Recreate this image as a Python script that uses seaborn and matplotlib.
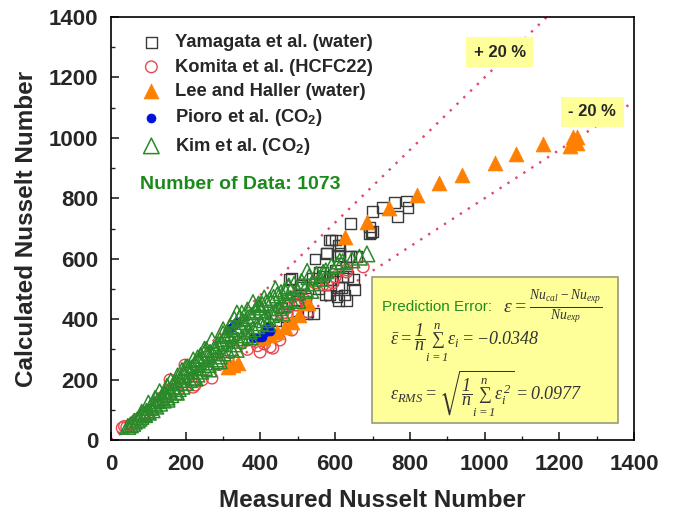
import numpy as np
import pandas as pd
import seaborn as sns
import matplotlib.pyplot as plt
from matplotlib.patches import Rectangle
from matplotlib.ticker import MultipleLocator

# ---- data ----
yamagata_x = [440, 457, 470, 479, 482, 498, 500, 506, 511, 520, 524, 527, 538, 541, 546, 555, 559,
              565, 570, 573, 576, 578, 586, 586, 586, 589, 594, 600, 600, 605, 608, 608, 610, 610,
              613, 613, 618, 620, 626, 630, 631, 634, 637, 640, 642, 648, 653, 658, 691, 693, 696,
              699, 701, 728, 760, 768, 790, 795]
yamagata_y = [395, 437, 410, 530, 533, 430, 460, 506, 513, 470, 420, 424, 533, 420, 599, 500, 556,
              553, 540, 480, 619, 616, 480, 530, 662, 662, 530, 662, 560, 474, 506, 612, 463, 645,
              619, 645, 506, 540, 480, 570, 463, 540, 606, 606, 718, 530, 497, 606, 705, 685, 688,
              689, 755, 771, 785, 741, 791, 768]

komita_x = [30, 36, 42, 55, 70, 90, 110, 130, 145, 158, 170, 190, 198, 220, 225, 244, 257, 270,
            290, 320, 350, 380, 399, 426, 433, 452, 460, 471, 471, 484, 487, 493, 498, 506, 519,
            524, 527, 546, 551, 567, 578, 594, 600, 631, 631, 675, 365, 410, 445, 392]
komita_y = [40, 45, 42, 50, 68, 85, 100, 125, 142, 199, 165, 180, 248, 175, 182, 199, 275, 205,
            250, 290, 320, 330, 291, 308, 304, 331, 420, 420, 437, 364, 474, 447, 447, 453, 463,
            474, 424, 520, 520, 513, 513, 520, 540, 556, 563, 573, 300, 318, 345, 312]

lee_x = [313, 327, 340, 407, 426, 444, 466, 484, 503, 527, 626, 685, 744, 819, 878, 940, 1028,
         1084, 1157, 1229, 1237, 1247, 1247, 1237]
lee_y = [242, 248, 255, 337, 348, 357, 374, 390, 414, 453, 672, 722, 768, 811, 850, 877, 917,
         946, 979, 973, 1004, 1004, 983, 990]

pioro_x = [313, 322, 330, 337, 380, 395, 404, 412, 418, 422, 426]
pioro_y = [365, 372, 382, 390, 338, 340, 342, 356, 370, 378, 360]

kim_x = [45, 52, 58, 62, 70, 75, 80, 85, 90, 95, 100, 105, 110, 115, 120, 125, 130, 135, 140,
         145, 150, 155, 160, 165, 170, 175, 180, 185, 190, 195, 200, 205, 210, 215, 220, 225,
         230, 235, 240, 245, 250, 255, 260, 265, 270, 275, 280, 285, 290, 295, 300, 305, 310,
         315, 320, 325, 330, 335, 340, 345, 350, 355, 360, 365, 370, 375, 380, 385, 390, 395,
         400, 405, 410, 415, 420, 425, 430, 435, 440, 445, 450, 455, 460, 465, 470, 475, 480,
         490, 500, 510, 520, 530, 540, 550, 560, 575, 590, 605, 620, 645, 665, 685, 270, 300,
         330, 250, 220, 190, 160, 130, 350, 380, 410, 440, 365, 280, 310, 240, 200,
         100, 150, 205, 255, 300, 337, 345, 395, 150, 175, 225, 262, 290, 335, 372, 420,
         458, 500, 535, 82, 118, 178, 232, 318, 402, 476, 525, 568, 612]
kim_y = [45, 50, 55, 62, 66, 72, 78, 88, 84, 95, 92, 108, 100, 118, 112, 130, 122, 140, 132,
         152, 142, 165, 150, 178, 160, 190, 170, 200, 178, 215, 190, 228, 200, 238, 208, 250,
         218, 258, 228, 268, 240, 280, 250, 290, 258, 300, 268, 312, 278, 322, 288, 335, 298,
         345, 305, 355, 318, 368, 330, 378, 338, 392, 348, 402, 360, 412, 368, 425, 378, 440,
         388, 448, 398, 455, 405, 465, 415, 472, 425, 480, 438, 488, 448, 495, 458, 505, 468,
         515, 490, 525, 500, 540, 520, 548, 535, 560, 575, 580, 590, 596, 605, 616, 330, 365,
         400, 300, 265, 230, 195, 160, 420, 455, 470, 500, 430, 300, 350, 280, 240,
         122, 178, 242, 300, 352, 420, 405, 450, 135, 158, 205, 235, 262, 300, 342, 385,
         420, 462, 495, 92, 138, 212, 272, 375, 430, 510, 558, 555, 592]

ref_x = [0, 1400]
band_plus = [0, 1680]
band_minus = [0, 1120]

# ---- style ----
sns.set_style('ticks')
plt.rcParams['font.family'] = ['Liberation Sans', 'DejaVu Sans']
plt.rcParams['mathtext.fontset'] = 'custom'
plt.rcParams['mathtext.rm'] = 'Liberation Serif:italic'
plt.rcParams['mathtext.it'] = 'Liberation Serif:italic'
plt.rcParams['mathtext.bf'] = 'Liberation Sans:bold'
plt.rcParams['mathtext.fallback'] = 'stix'

fig = plt.figure(figsize=(6.73, 5.15), dpi=100)
ax = fig.add_axes([0.165, 0.1456, 0.777, 0.8214])

line_col = '#e04a68'
ax.plot(ref_x, band_plus, linestyle=(0, (1, 3)), color=line_col, lw=1.7, zorder=1)
ax.plot(ref_x, band_minus, linestyle=(0, (1, 3)), color=line_col, lw=1.7, zorder=1)

sns.scatterplot(x=yamagata_x, y=yamagata_y, marker='s', s=62, facecolors='none',
                edgecolors='#3a3a3a', linewidth=1.0, ax=ax, label='Yamagata et al. (water)')
sns.scatterplot(x=komita_x, y=komita_y, marker='o', s=70, facecolors='none',
                edgecolors='#e8474c', linewidth=1.0, ax=ax, label='Komita et al. (HCFC22)')
sns.scatterplot(x=lee_x, y=lee_y, marker='^', s=115, color='#ff8000',
                edgecolors='#ff8000', linewidth=0.5, ax=ax, label='Lee and Haller (water)')
sns.scatterplot(x=pioro_x, y=pioro_y, marker='o', s=42, color='#0010e0',
                edgecolors='#0010e0', linewidth=0.5, ax=ax, label=r'Pioro et al. (CO$_\mathbf{2}$)')
sns.scatterplot(x=kim_x, y=kim_y, marker='^', s=125, facecolors='none',
                edgecolors='#2a8a2a', linewidth=1.1, ax=ax, label=r'Kim et al. (CO$_\mathbf{2}$)')

ax.set_xlim(0, 1400)
ax.set_ylim(0, 1400)
ax.xaxis.set_major_locator(MultipleLocator(200))
ax.yaxis.set_major_locator(MultipleLocator(200))
ax.xaxis.set_minor_locator(MultipleLocator(100))
ax.yaxis.set_minor_locator(MultipleLocator(100))
ax.tick_params(which='major', direction='in', length=6, width=1.2, labelsize=16, pad=9)
ax.tick_params(which='minor', direction='in', length=3, width=1.0)
ax.tick_params(axis='x', which='major', pad=10)
for lab in ax.get_xticklabels() + ax.get_yticklabels():
    lab.set_fontweight('bold')
for sp in ax.spines.values():
    sp.set_linewidth(1.2)
    sp.set_color('black')
    sp.set_visible(True)

ax.set_xlabel('Measured Nusselt Number', fontsize=17.5, fontweight='bold', labelpad=10)
ax.set_ylabel('Calculated Nusselt Number', fontsize=17.5, fontweight='bold', labelpad=8)

leg = ax.legend(loc='upper left', bbox_to_anchor=(0.035, 0.985), frameon=False,
                prop={'size': 13.2, 'weight': 'bold'}, handletextpad=0.7, handlelength=1.2,
                labelspacing=0.4, borderaxespad=0.2)

ax.text(78, 847, 'Number of Data: 1073', color='#1a8a1a', fontsize=14, fontweight='bold',
        ha='left', va='center')

# +/-20 % labels
ax.text(1041, 1284, '+ 20 %', fontsize=12, fontweight='bold', ha='center', va='center',
        bbox=dict(boxstyle='square,pad=0.45', facecolor='#ffff99', edgecolor='none'), zorder=5)
ax.text(1288, 1086, '- 20 %', fontsize=12, fontweight='bold', ha='center', va='center',
        bbox=dict(boxstyle='square,pad=0.45', facecolor='#ffff99', edgecolor='none'), zorder=5)

# prediction error box
ax.add_patch(Rectangle((699, 56), 658, 484, facecolor='#ffff99', edgecolor='#9a9a7a',
                       linewidth=1.2, zorder=4))
ax.text(725, 440, 'Prediction Error:', color='#228b22', fontsize=11, ha='left', va='center',
        zorder=6)
ax.text(1050, 440, r'$\varepsilon = \frac{Nu_{cal} - Nu_{exp}}{Nu_{exp}}$', fontsize=14,
        color='#333333', ha='left', va='center', zorder=6)
ax.text(747, 322, r'$\bar{\varepsilon} = \dfrac{1}{n}\sum_{i=1}^{n}\varepsilon_i = -0.0348$',
        fontsize=13, color='#333333', ha='left', va='center', zorder=6)
ax.text(747, 155, r'$\varepsilon_{RMS} = \sqrt{\dfrac{1}{n}\sum_{i=1}^{n}\varepsilon_i^{\,2}} = 0.0977$',
        fontsize=13, color='#333333', ha='left', va='center', zorder=6)

fig.savefig('out.png', dpi=100)
